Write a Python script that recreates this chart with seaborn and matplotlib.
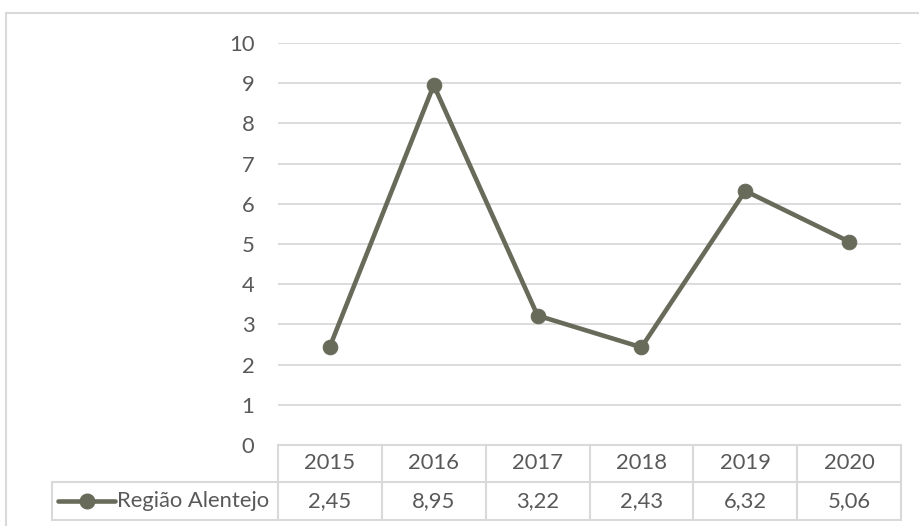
import matplotlib
matplotlib.use("Agg")
import matplotlib.pyplot as plt
from matplotlib.lines import Line2D
from matplotlib.patches import Rectangle
import seaborn as sns
import pandas as pd

years = ["2015", "2016", "2017", "2018", "2019", "2020"]
values = [2.45, 8.95, 3.22, 2.43, 6.32, 5.06]
series_name = "Região Alentejo"
y_ticks = list(range(0, 11))

line_color = "#686b5a"
grid_color = "#d9d9d9"
text_color = "#595959"
font_size = 15.8

sns.set_theme(style="white")
plt.rcParams["font.family"] = ["Lato", "DejaVu Sans"]

df = pd.DataFrame({"Ano": years, "Valor": values})

W, H = 920, 526
fig = plt.figure(figsize=(W / 100, H / 100), dpi=100)

# plot area in pixel terms
left_px, right_px, top_px, zero_px = 278, 901, 43, 445
ax = fig.add_axes([left_px / W, 1 - zero_px / H,
                   (right_px - left_px) / W, (zero_px - top_px) / H])

sns.lineplot(data=df, x="Ano", y="Valor", ax=ax, color=line_color,
             linewidth=3.3, marker="o", markersize=10.5,
             markeredgecolor=line_color, markerfacecolor=line_color)

ax.set_xlim(-0.5, len(years) - 0.5)
ax.set_ylim(0, 10)
ax.set_yticks(y_ticks)
ax.set_yticklabels([str(t) for t in y_ticks])
ax.set_xticks([])
ax.set_xlabel("")
ax.set_ylabel("")
for s in ax.spines.values():
    s.set_visible(False)
ax.tick_params(axis="y", length=0, pad=17, labelsize=font_size, labelcolor=text_color)
for t in y_ticks:
    ax.axhline(t, color=grid_color, linewidth=1.3, zorder=0)

# data table below the plot area
plot_h = zero_px - top_px
plot_w = right_px - left_px

def fy(px):
    return (zero_px - px) / plot_h

def fx(px):
    return (px - left_px) / plot_w

row1_bottom, row2_bottom = 482, 520
label_left = 52
tbl_kw = dict(color=grid_color, linewidth=1.5, transform=ax.transAxes, clip_on=False)

ax.add_line(Line2D([0, 1], [fy(zero_px)] * 2, **tbl_kw))
ax.add_line(Line2D([fx(label_left), 1], [fy(row1_bottom)] * 2, **tbl_kw))
ax.add_line(Line2D([fx(label_left), 1], [fy(row2_bottom)] * 2, **tbl_kw))
ax.add_line(Line2D([fx(label_left)] * 2, [fy(row1_bottom), fy(row2_bottom)], **tbl_kw))
n = len(years)
for i in range(n + 1):
    xf = i / n
    ax.add_line(Line2D([xf, xf], [fy(zero_px), fy(row2_bottom)], **tbl_kw))

for i, (yr, v) in enumerate(zip(years, values)):
    xc = (i + 0.5) / n
    ax.text(xc, fy(463), yr, transform=ax.transAxes, ha="center", va="center",
            fontsize=font_size, color=text_color)
    ax.text(xc, fy(501), f"{v:.2f}".replace(".", ","), transform=ax.transAxes,
            ha="center", va="center", fontsize=font_size, color=text_color)

# legend key inside the row label cell
ax.add_line(Line2D([fx(58), fx(115)], [fy(501)] * 2, color=line_color,
                   linewidth=3.3, transform=ax.transAxes, clip_on=False))
ax.add_line(Line2D([fx(87)], [fy(501)], marker="o", markersize=10.5,
                   color=line_color, transform=ax.transAxes, clip_on=False))
ax.text(fx(117), fy(501), series_name, transform=ax.transAxes, ha="left",
        va="center", fontsize=font_size, color=text_color)

# chart area border
fig.patches.append(Rectangle((6 / W, -0.1), 1.1, 1 - 13 / H + 0.1,
                             transform=fig.transFigure, fill=False,
                             edgecolor=grid_color, linewidth=1.5))

fig.savefig("out.png", dpi=100)
